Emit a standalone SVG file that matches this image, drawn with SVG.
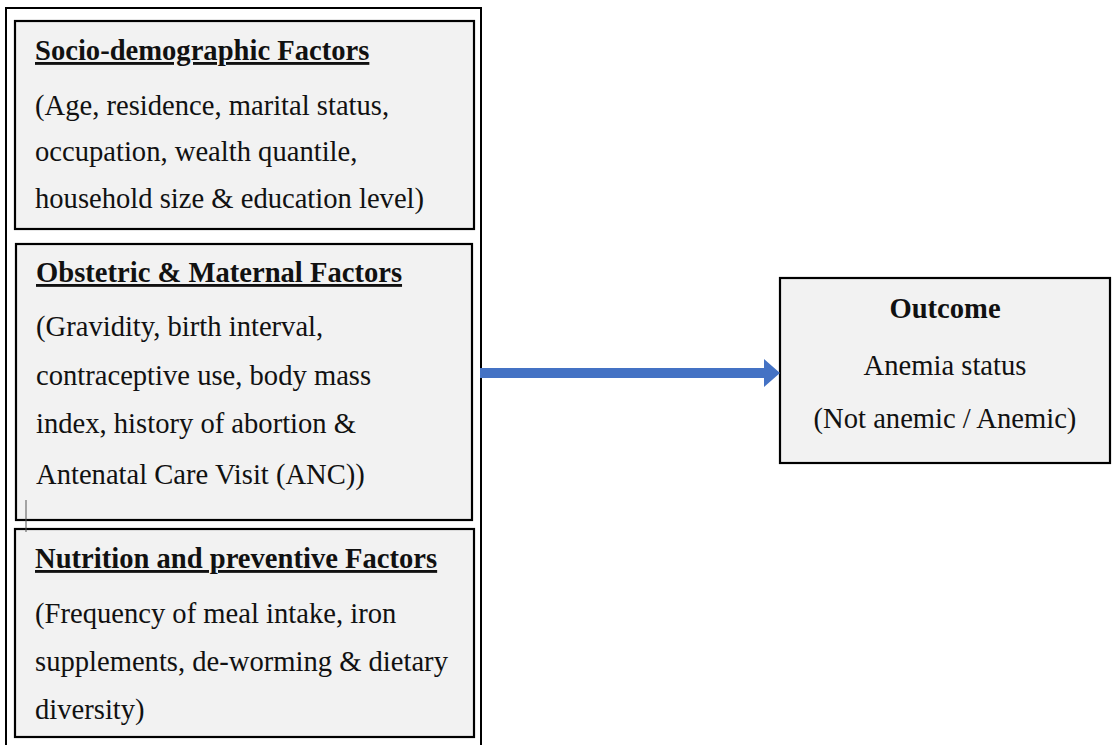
<svg xmlns="http://www.w3.org/2000/svg" width="1112" height="745" viewBox="0 0 1112 745">
<style>
.box{fill:#f2f2f2;stroke:#000;stroke-width:2.2}
.t{font-family:"Liberation Serif","Times New Roman",serif;font-size:28.6px;fill:#111}
.h{font-weight:bold;text-decoration:underline}
.b{font-weight:bold}
</style>
<rect width="1112" height="745" fill="#fff"/>
<rect id="frame" x="6" y="8" width="475" height="745" fill="none" stroke="#000" stroke-width="2"/>
<g id="socio">
<rect class="box" x="15" y="21" width="459" height="208"/>
<text class="t h" x="35" y="60">Socio-demographic Factors</text>
<text class="t" x="35" y="115">(Age, residence, marital status,</text>
<text class="t" x="35" y="161">occupation, wealth quantile,</text>
<text class="t" x="35" y="208">household size &amp; education level)</text>
</g>
<g id="obstetric">
<rect class="box" x="16" y="244" width="456" height="276"/>
<text class="t h" x="36" y="282">Obstetric &amp; Maternal Factors</text>
<text class="t" x="36" y="336">(Gravidity, birth interval,</text>
<text class="t" x="36" y="385">contraceptive use, body mass</text>
<text class="t" x="36" y="433">index, history of abortion &amp;</text>
<text class="t" x="36" y="484">Antenatal Care Visit (ANC))</text>
</g>
<g id="nutrition">
<rect class="box" x="15" y="529" width="459" height="208"/>
<text class="t h" x="35" y="568">Nutrition and preventive Factors</text>
<text class="t" x="35" y="623">(Frequency of meal intake, iron</text>
<text class="t" x="35" y="671">supplements, de-worming &amp; dietary</text>
<text class="t" x="35" y="719">diversity)</text>
</g>
<line x1="26" y1="500" x2="26" y2="532" stroke="#555" stroke-width="1"/>
<g id="outcome">
<rect class="box" x="780" y="278" width="330" height="185"/>
<text class="t b" x="945" y="318" text-anchor="middle">Outcome</text>
<text class="t" x="945" y="375" text-anchor="middle">Anemia status</text>
<text class="t" x="945" y="428" text-anchor="middle">(Not anemic / Anemic)</text>
</g>
<g id="connectors">
<polygon points="480,368 764,368 764,359 780,373 764,387 764,378 480,378" fill="#4472c4"/>
</g>
</svg>
